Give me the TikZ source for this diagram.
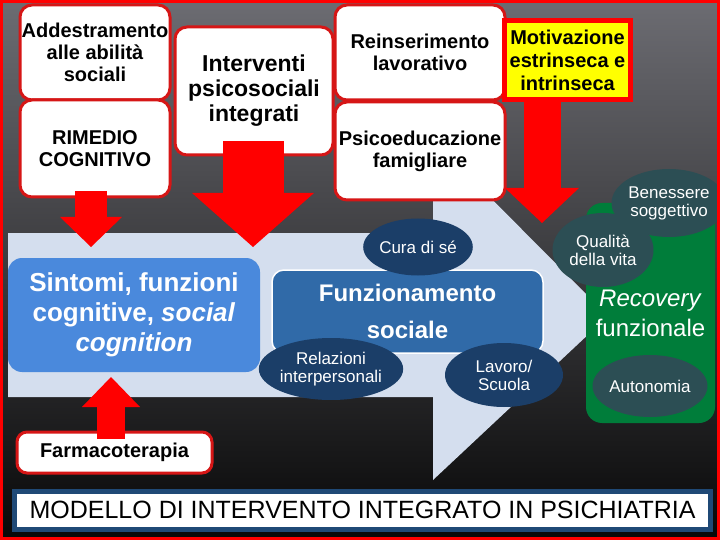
\documentclass[tikz,border=0pt]{standalone}
\usepackage{fontspec}
\setmainfont{Liberation Sans}
\usetikzlibrary{arrows.meta,calc,shapes.geometric}
\definecolor{bgtop}{RGB}{108,108,114}
\definecolor{bgmid}{RGB}{62,62,66}
\definecolor{bgbot}{RGB}{8,8,8}
\definecolor{boxred}{RGB}{214,22,22}
\definecolor{arrred}{RGB}{255,0,0}
\definecolor{lightarr}{RGB}{212,222,238}
\definecolor{sintblue}{RGB}{74,137,220}
\definecolor{funzblue}{RGB}{48,106,168}
\definecolor{ellblue}{RGB}{27,62,104}
\definecolor{recgreen}{RGB}{0,125,58}
\definecolor{ellslate}{RGB}{44,78,84}
\definecolor{motyellow}{RGB}{255,255,0}
\definecolor{titleblue}{RGB}{31,73,118}

\begin{document}
\begin{tikzpicture}[x=1pt,y=-1pt,
  whitebox/.style={draw=boxred,line width=3,fill=white,rounded corners=12,align=center,inner sep=0,font=\fontsize{20}{22}\selectfont\bfseries},
  bluebubble/.style={ellipse,fill=ellblue,text=white,align=center,inner sep=0,font=\fontsize{17}{18}\selectfont},
  slatebubble/.style={ellipse,fill=ellslate,text=white,align=center,inner sep=0,font=\fontsize{17}{18}\selectfont},
  bigarrow/.style n args={3}{draw=arrred,line width=#1,-{Triangle[width=#2,length=#3,line width=0pt]}}]

\shade[top color=bgtop,middle color=bgmid,bottom color=bgbot] (0,0) rectangle (720,540);
\useasboundingbox (0,0) rectangle (720,540);

% big light arrow
\fill[lightarr] (8,233) -- (433,233) -- (433,140) -- (608,316) -- (433,480) -- (433,397) -- (8,397) -- cycle;

\node[fill=sintblue,rounded corners=14,minimum width=252,minimum height=114,text=white,align=center,font=\fontsize{26}{30}\selectfont\bfseries] (sint) at (134,315) {Sintomi, funzioni\\cognitive, \textit{social}\\\textit{cognition}};
\node[fill=funzblue,draw=white,line width=1.5,rounded corners=12,minimum width=271,minimum height=83,text=white,align=center,font=\fontsize{24}{37}\selectfont\bfseries] (funz) at (407.5,311.5) {Funzionamento\\sociale};

\node[bluebubble,minimum width=106,minimum height=57] (cura) at (418,247) {Cura di sé};
\node[bluebubble,minimum width=126,minimum height=62] (relaz) at (331,369) {Relazioni\\interpersonali};
\node[bluebubble,minimum width=118,minimum height=64] (lavoro) at (504,375) {Lavoro/\\Scuola};

\node[fill=recgreen,rounded corners=16,minimum width=129,minimum height=220,text=white,align=center,font=\fontsize{24}{30}\selectfont] (recov) at (650.5,313) {\textit{Recovery}\\funzionale};
\node[slatebubble,minimum width=100,minimum height=68] (benes) at (669,203) {Benessere\\soggettivo};
\node[slatebubble,minimum width=101,minimum height=74] (qual) at (603,250) {Qualità\\della vita};
\node[slatebubble,minimum width=115,minimum height=62] (auton) at (650,386) {Autonomia};

% interventions
\node[whitebox,minimum width=150,minimum height=95] (addestr) at (95,52.5) {Addestramento\\alle abilità\\sociali};
\node[whitebox,minimum width=150,minimum height=97] (rimedio) at (95,148.5) {RIMEDIO\\COGNITIVO};
\node[whitebox,minimum width=158,minimum height=128,font=\fontsize{23}{25}\selectfont\bfseries] (interv) at (254,91) {Interventi\\psicosociali\\integrati};
\node[whitebox,minimum width=170,minimum height=95] (reins) at (420,52.5) {Reinserimento\\lavorativo};
\node[whitebox,minimum width=170,minimum height=98] (psico) at (420,151) {Psicoeducazione\\famigliare};
\node[draw=arrred,line width=5,fill=motyellow,minimum width=126,minimum height=79,align=center,inner sep=0,font=\fontsize{20}{23}\selectfont\bfseries] (motiv) at (567.5,60) {Motivazione\\estrinseca e\\intrinseca};
\node[whitebox,rounded corners=10,minimum width=195,minimum height=41] (farmaco) at (114.5,452.5) {Farmacoterapia};

\coordinate (rimtip) at (91,247);
\coordinate (intertip) at (253,247);
\coordinate (motivtip) at (542,223);
\coordinate (sinttip) at (111,377);

\draw[bigarrow={32}{62}{30}] ($(rimedio.south -| rimtip)+(0,-7)$) -- (rimtip);
\draw[bigarrow={61}{122}{54}] ($(interv.south -| intertip)+(0,-15)$) -- (intertip);
\draw[bigarrow={37}{74}{35}] (motiv.south -| motivtip) -- (motivtip);
\draw[bigarrow={28}{58}{30}] ($(farmaco.north -| sinttip)+(0,8)$) -- (sinttip);

\node[draw=titleblue,line width=5,fill=white,minimum width=696,minimum height=38,inner sep=0,font=\fontsize{25}{25}\selectfont] (titolo) at (362.5,510) {MODELLO DI INTERVENTO INTEGRATO IN PSICHIATRIA};

\draw[arrred,line width=3] (1.5,1.5) rectangle (718.5,538.5);
\end{tikzpicture}
\end{document}
